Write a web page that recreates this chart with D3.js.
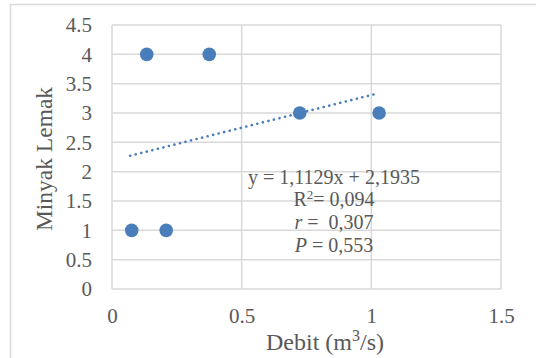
<!DOCTYPE html>
<html>
<head>
<meta charset="utf-8">
<script src="https://cdn.jsdelivr.net/npm/d3@7"></script>
<style>
  body { margin: 0; background: #fff; }
  text { font-family: "Liberation Serif", serif; fill: #595959; }
</style>
</head>
<body>
<div id="chart"></div>
<script>
var debit = [0.076, 0.209, 0.134, 0.375, 0.724, 1.03];
var minyak = [1, 1, 4, 4, 3, 3];
var xTicks = [0, 0.5, 1, 1.5];
var yTicks = [0, 0.5, 1, 1.5, 2, 2.5, 3, 3.5, 4, 4.5];
var trendX = [0.07, 1.01];
var slope = 1.1129, intercept = 2.1935;
var notes = ["y = 1,1129x + 2,1935", "= 0,094", " =  0,307", " = 0,553"];

var W = 536, H = 358;
var svg = d3.select("#chart").append("svg")
    .attr("width", W)
    .attr("height", H);

// chart frame
svg.append("rect")
    .attr("x", 10.5).attr("y", 4.5)
    .attr("width", 540).attr("height", 370)
    .attr("fill", "none")
    .attr("stroke", "#d9d9d9")
    .attr("stroke-width", 1.5);

var x = d3.scaleLinear().domain([0, 1.5]).range([112, 501]);
var y = d3.scaleLinear().domain([0, 4.5]).range([289, 25]);

// grid
svg.append("g").selectAll("line").data(yTicks).enter().append("line")
    .attr("x1", x(0)).attr("x2", x(1.5))
    .attr("y1", function (d) { return y(d); })
    .attr("y2", function (d) { return y(d); })
    .attr("stroke", "#d9d9d9").attr("stroke-width", 1.5);
svg.append("g").selectAll("line").data(xTicks).enter().append("line")
    .attr("y1", y(0)).attr("y2", y(4.5))
    .attr("x1", function (d) { return x(d); })
    .attr("x2", function (d) { return x(d); })
    .attr("stroke", "#d9d9d9").attr("stroke-width", 1.5);

// axes (labels only)
var yAxis = svg.append("g")
    .attr("transform", "translate(" + x(0) + ",0)")
    .call(d3.axisLeft(y).tickValues(yTicks).tickSize(0).tickPadding(20).tickFormat(d3.format("")));
var xAxis = svg.append("g")
    .attr("transform", "translate(0," + y(0) + ")")
    .call(d3.axisBottom(x).tickValues(xTicks).tickSize(0).tickPadding(19.5).tickFormat(d3.format("")));
[yAxis, xAxis].forEach(function (a) {
    a.select(".domain").remove();
    a.selectAll("text")
        .style("font-family", "Liberation Serif, serif")
        .style("font-size", "21px")
        .attr("fill", "#595959");
});

// trend line
svg.append("line")
    .attr("x1", x(trendX[0])).attr("y1", y(slope * trendX[0] + intercept))
    .attr("x2", x(trendX[1])).attr("y2", y(slope * trendX[1] + intercept))
    .attr("stroke", "#4a7ebb")
    .attr("stroke-width", 2.6)
    .attr("stroke-dasharray", "0.1 5.6")
    .attr("stroke-linecap", "round");

// points
svg.append("g").selectAll("circle").data(debit).enter().append("circle")
    .attr("cx", function (d) { return x(d); })
    .attr("cy", function (d, i) { return y(minyak[i]); })
    .attr("r", 6.8)
    .attr("fill", "#4a7ebb");

// regression notes
var note = svg.append("text")
    .attr("text-anchor", "middle")
    .style("white-space", "pre")
    .style("font-size", "20px");
note.append("tspan").attr("x", 334).attr("y", 184).text(notes[0]);
var r2 = note.append("tspan").attr("x", 334).attr("y", 206);
r2.append("tspan").text("R");
r2.append("tspan").attr("dy", -7).style("font-size", "13px").text("2");
r2.append("tspan").attr("dy", 7).text(notes[1]);
var rl = note.append("tspan").attr("x", 334).attr("y", 229);
rl.append("tspan").style("font-style", "italic").text("r");
rl.append("tspan").text(notes[2]);
var pl = note.append("tspan").attr("x", 334).attr("y", 252);
pl.append("tspan").style("font-style", "italic").text("P");
pl.append("tspan").text(notes[3]);

// axis titles
svg.append("text")
    .attr("transform", "translate(52,159) rotate(-90)")
    .attr("text-anchor", "middle")
    .style("font-size", "23.5px")
    .text("Minyak Lemak");
var xt = svg.append("text")
    .attr("x", 325).attr("y", 350)
    .attr("text-anchor", "middle")
    .style("font-size", "24px");
xt.append("tspan").text("Debit (m");
xt.append("tspan").attr("dy", -9).style("font-size", "16px").text("3");
xt.append("tspan").attr("dy", 9).text("/s)");
</script>
</body>
</html>
